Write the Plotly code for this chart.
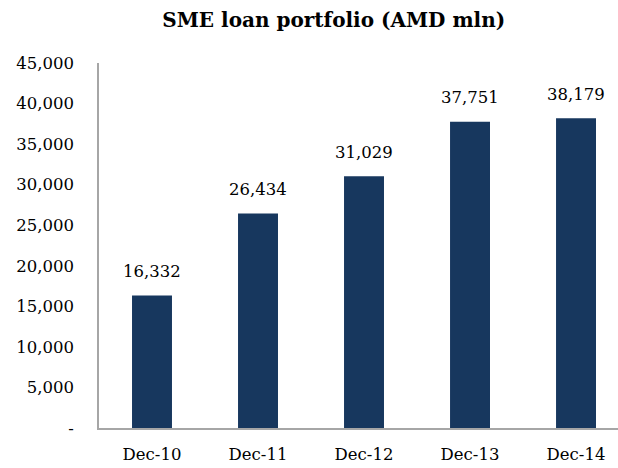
import plotly.graph_objects as go

categories = ["Dec-10", "Dec-11", "Dec-12", "Dec-13", "Dec-14"]
values = [16332, 26434, 31029, 37751, 38179]
tick_vals = [0, 5000, 10000, 15000, 20000, 25000, 30000, 35000, 40000, 45000]
tick_text = ["-", "5,000", "10,000", "15,000", "20,000", "25,000", "30,000", "35,000", "40,000", "45,000"]

BAR = "#17375E"
AXIS = "#A6A6A6"
FONT = "DejaVu Serif"

fig = go.Figure()
fig.add_trace(go.Bar(x=list(range(len(categories))), y=values, marker=dict(color=BAR, line=dict(width=0)),
                     hoverinfo="skip"))

for i, v in enumerate(values):
    fig.add_annotation(x=i, y=v, text=f"{v:,}", showarrow=False, yshift=24, yanchor="middle",
                       font=dict(family=FONT, size=16.5, color="#000000"))

fig.update_layout(
    width=618, height=468,
    margin=dict(l=99, r=0, t=63, b=40),
    paper_bgcolor="white", plot_bgcolor="white",
    bargap=0.623,
    showlegend=False,
    title=dict(text="<b>SME loan portfolio (AMD mln)</b>", x=0.54, xanchor="center", y=0.957, yanchor="middle",
               font=dict(family=FONT, size=20, color="#000000")),
    font=dict(family=FONT, size=16.5, color="#000000"),
)
fig.update_xaxes(range=[-0.5, 4.396], tickvals=list(range(len(categories))), ticktext=categories,
                 showline=True, linecolor=AXIS, linewidth=1.5, showgrid=False, zeroline=False,
                 ticks="", ticklabelstandoff=10, tickfont=dict(family=FONT, size=16.5, color="#000000"))
fig.update_yaxes(range=[0, 45000], tickvals=tick_vals, ticktext=tick_text,
                 showline=True, linecolor=AXIS, linewidth=1.5, showgrid=False, zeroline=False,
                 ticks="", ticklabelstandoff=20, tickfont=dict(family=FONT, size=16.5, color="#000000"))

fig.write_html("out.html", config={"displayModeBar": False},
               post_script="document.body.style.margin='0';document.body.style.overflow='hidden';")
